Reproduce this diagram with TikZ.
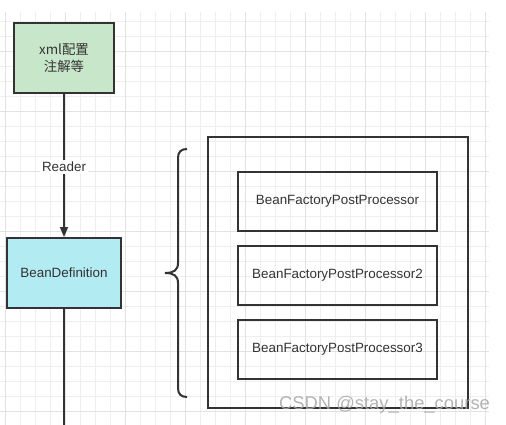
\documentclass[tikz,border=0pt]{standalone}
\usepackage{fontspec}
\setmainfont{Liberation Sans}
\newfontfamily\cjkfont{Noto Sans CJK SC}
\usepackage{tikz}
\usetikzlibrary{arrows.meta,positioning}
\definecolor{inkgray}{HTML}{333333}
\definecolor{gridlight}{HTML}{EEEEEE}
\definecolor{griddark}{HTML}{E2E2E2}
\definecolor{xmlgreen}{HTML}{C8E6CA}
\definecolor{beancyan}{HTML}{B3EBF2}
\begin{document}
\begin{tikzpicture}[x=1pt,y=-1pt,font=\fontsize{13.4}{17}\selectfont,
  box/.style={draw=inkgray,line width=2pt,text=inkgray,inner sep=0pt,align=center},
  conn/.style={draw=inkgray,line width=1.6pt}]
\useasboundingbox (0,0) rectangle (506,425);
\foreach \gx in {5.7,20.7,...,489} \draw[gridlight,line width=0.8pt] (\gx,12.3)--(\gx,425);
\foreach \gy in {21.7,36.7,...,425} \draw[gridlight,line width=0.8pt] (0,\gy)--(489,\gy);
\foreach \gx in {5.7,65.7,...,489} \draw[griddark,line width=0.8pt] (\gx,12.3)--(\gx,425);
\foreach \gy in {51.7,111.7,...,425} \draw[griddark,line width=0.8pt] (0,\gy)--(489,\gy);
\node[box,fill=xmlgreen,minimum width=100pt,minimum height=70pt] (xml) at (64,58) {{\cjkfont xml配置}\\{\cjkfont 注解等}};
\node[box,fill=beancyan,minimum width=114pt,minimum height=70pt] (bean) at (64,273) {BeanDefinition};
\coordinate (tail) at (64,425);
\draw[conn,-{Triangle[length=10pt,width=8pt]}] (xml) -- node[pos=0.51,fill=white,text=inkgray,inner sep=2pt] (reader) {Reader} (bean);
\draw[conn] (bean) -- (tail);
\node[box,minimum width=260pt,minimum height=271pt] (group) at (338,272.5) {};
\node[box,minimum width=199pt,minimum height=59pt] (bfpp1) at (337.5,201.5) {BeanFactoryPostProcessor};
\node[box,minimum width=199pt,minimum height=59pt] (bfpp2) at (337.5,275.5) {BeanFactoryPostProcessor2};
\node[box,minimum width=199pt,minimum height=59pt] (bfpp3) at (337.5,349.5) {BeanFactoryPostProcessor3};
\draw[inkgray,line width=2pt] (187,149) .. controls (181,149) and (178,152) .. (178,158) -- (178,263)
  .. controls (178,270) and (174,273) .. (165,273) .. controls (174,273) and (178,276) .. (178,283)
  -- (178,388) .. controls (178,394) and (181,397) .. (187,397);
\node[text=gray!70,opacity=0.85,font=\fontsize{18.4}{20}\selectfont,inner sep=0pt] (mark) at (384.5,405) {CSDN @stay\_the\_course};
\end{tikzpicture}
\end{document}
